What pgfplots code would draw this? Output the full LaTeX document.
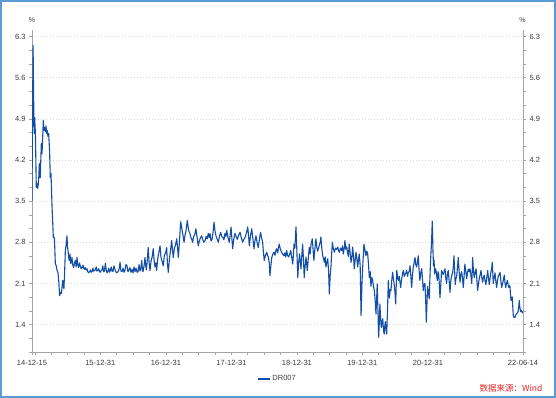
\documentclass[border=0pt]{standalone}
\usepackage{pgfplots}
\usepackage{pgfplotstable}
\pgfplotsset{compat=1.18}
\usepackage{fontspec}
\setmainfont{Liberation Sans}
\newfontfamily\cjk{Noto Sans CJK SC}
\definecolor{lineblue}{RGB}{18,78,165}
\definecolor{framecol}{RGB}{91,155,213}
\definecolor{axgray}{RGB}{165,165,165}
\definecolor{txtgray}{RGB}{60,60,60}
\definecolor{gridgray}{RGB}{215,215,215}
\definecolor{srcred}{RGB}{230,35,35}

\pgfplotstableread{
day val
0 3.51
3 5.00
6 6.15
9 5.30
12 4.65
15 4.92
19 4.65
24 3.73
28 3.80
32 3.72
37 3.85
41 4.14
46 3.90
52 4.48
56 4.31
63 4.87
67 4.70
71 4.75
75 4.68
78 4.78
82 4.65
85 4.70
89 4.60
93 4.65
98 4.36
102 3.90
106 3.97
112 3.39
119 2.88
125 2.88
130 2.44
135 2.40
140 2.32
145 2.28
149 2.15
154 1.89
159 1.95
164 1.93
168 2.05
171 2.15
175 2.05
178 2.01
182 2.30
186 2.66
190 2.75
195 2.91
198 2.72
201 2.66
204 2.55
208 2.49
212 2.60
216 2.44
220 2.48
223 2.54
227 2.42
232 2.37
237 2.45
242 2.49
246 2.38
251 2.54
255 2.42
260 2.37
265 2.45
269 2.40
274 2.35
279 2.37
284 2.41
288 2.36
293 2.34
297 2.37
302 2.33
307 2.35
311 2.30
316 2.28
321 2.30
326 2.33
330 2.29
335 2.30
340 2.36
344 2.31
349 2.32
353 2.33
358 2.38
362 2.31
367 2.32
372 2.35
377 2.30
381 2.29
386 2.32
390 2.33
395 2.40
399 2.30
404 2.31
409 2.44
414 2.33
418 2.28
423 2.30
428 2.36
432 2.29
437 2.32
442 2.38
447 2.30
452 2.31
457 2.40
464 2.32
472 2.28
480 2.30
486 2.35
491 2.46
496 2.31
502 2.30
508 2.36
513 2.29
519 2.33
524 2.42
530 2.40
535 2.30
541 2.33
546 2.37
552 2.29
558 2.34
563 2.28
569 2.38
575 2.30
580 2.36
586 2.29
591 2.30
597 2.42
602 2.31
607 2.35
612 2.49
616 2.33
619 2.30
625 2.40
630 2.54
634 2.40
638 2.33
643 2.50
648 2.71
653 2.45
658 2.32
664 2.48
670 2.55
676 2.69
681 2.50
686 2.38
691 2.45
695 2.32
700 2.50
706 2.60
714 2.74
719 2.55
725 2.48
732 2.40
738 2.58
745 2.62
751 2.71
755 2.45
760 2.29
766 2.50
772 2.65
779 2.83
784 2.65
788 2.54
794 2.70
800 2.75
807 2.86
812 2.70
816 2.54
822 2.80
829 3.15
835 3.05
840 2.95
844 2.88
848 2.80
853 2.92
859 3.00
866 3.17
871 3.05
876 2.98
881 2.95
886 2.88
891 2.85
896 2.80
901 2.90
907 2.92
914 3.03
920 2.90
927 2.74
933 2.82
940 2.88
946 2.91
952 2.85
958 2.80
965 2.83
971 2.90
977 2.86
983 2.95
988 2.88
993 2.95
998 2.82
1004 2.85
1010 2.98
1015 3.14
1020 3.00
1026 2.91
1032 2.86
1039 2.80
1045 2.90
1052 2.97
1058 2.90
1065 2.88
1070 2.84
1076 2.95
1081 2.90
1086 3.00
1093 2.88
1100 2.80
1105 2.92
1110 3.06
1115 2.85
1119 2.69
1125 2.85
1132 2.95
1138 2.90
1145 2.85
1152 2.92
1160 2.97
1167 2.88
1175 2.80
1181 2.85
1188 2.88
1195 2.95
1203 3.06
1208 2.90
1212 2.74
1218 2.90
1225 3.03
1231 2.88
1238 2.69
1243 2.82
1249 2.91
1255 2.80
1262 2.71
1268 2.85
1275 2.97
1280 2.88
1286 2.80
1290 2.65
1295 2.49
1302 2.58
1309 2.63
1313 2.58
1318 2.55
1323 2.45
1327 2.23
1332 2.40
1337 2.54
1343 2.60
1349 2.63
1355 2.58
1360 2.66
1364 2.69
1370 2.62
1375 2.72
1379 2.77
1385 2.68
1392 2.63
1398 2.60
1405 2.57
1410 2.62
1415 2.55
1420 2.66
1425 2.58
1431 2.55
1437 2.60
1443 2.66
1448 2.55
1454 2.43
1458 2.60
1461 2.77
1466 2.70
1472 3.06
1477 2.65
1482 2.20
1487 2.45
1492 2.60
1500 2.35
1504 2.55
1509 2.77
1514 2.50
1518 2.20
1523 2.40
1528 2.55
1535 2.32
1540 2.50
1546 2.71
1551 2.60
1556 2.77
1563 2.86
1568 2.65
1572 2.49
1578 2.70
1583 2.86
1588 2.72
1593 2.65
1598 2.70
1602 2.75
1607 2.80
1611 2.89
1616 2.70
1621 2.57
1626 2.52
1630 2.46
1635 2.55
1639 2.38
1644 2.45
1649 2.52
1654 2.30
1658 1.92
1663 2.25
1667 2.38
1671 2.60
1675 2.80
1680 2.70
1686 2.63
1692 2.70
1699 2.68
1705 2.72
1709 2.66
1714 2.63
1720 2.70
1727 2.66
1731 2.74
1736 2.60
1741 2.70
1745 2.83
1750 2.68
1755 2.72
1760 2.62
1764 2.56
1769 2.77
1774 2.62
1779 2.46
1784 2.55
1788 2.72
1793 2.55
1797 2.35
1802 2.50
1807 2.63
1812 2.50
1816 2.38
1821 2.52
1825 2.60
1830 2.40
1835 1.55
1840 2.10
1844 2.38
1848 2.60
1851 2.77
1856 2.68
1862 2.57
1867 2.65
1872 2.60
1877 2.40
1881 2.20
1886 2.30
1890 2.05
1895 2.20
1900 2.15
1904 2.05
1909 1.98
1914 1.80
1918 1.58
1922 1.85
1925 2.09
1929 1.65
1933 1.18
1937 1.45
1940 1.75
1944 1.50
1948 1.35
1952 1.45
1956 1.50
1960 1.30
1964 1.24
1968 1.40
1971 1.45
1975 1.30
1978 1.24
1982 1.60
1987 2.15
1990 1.95
1993 1.85
1998 2.00
2002 1.98
2006 2.15
2011 2.29
2015 2.18
2019 2.10
2024 1.95
2028 1.75
2031 2.05
2034 2.32
2039 2.20
2043 2.15
2048 2.22
2052 2.12
2056 2.03
2060 2.15
2063 2.20
2067 2.28
2071 2.32
2076 2.22
2080 2.25
2085 2.28
2089 2.32
2094 2.22
2098 2.28
2103 2.30
2108 2.40
2112 2.25
2117 2.03
2122 2.25
2126 2.38
2131 2.45
2136 2.54
2140 2.42
2145 2.38
2150 2.48
2154 2.57
2158 2.35
2163 2.15
2168 2.28
2173 2.35
2178 2.15
2182 1.98
2186 2.08
2191 2.10
2195 1.85
2199 1.44
2203 1.80
2206 2.05
2210 1.95
2215 1.84
2219 2.20
2223 2.52
2228 2.80
2232 3.16
2236 2.65
2239 2.40
2242 2.50
2245 2.26
2249 2.35
2253 2.32
2257 2.22
2260 2.15
2264 2.30
2268 2.25
2272 2.05
2275 1.86
2280 2.10
2284 2.32
2289 2.28
2293 2.25
2298 2.30
2303 2.35
2307 2.20
2312 2.10
2316 2.25
2321 2.32
2326 2.15
2331 1.95
2334 2.10
2338 2.20
2342 2.25
2346 2.29
2350 2.40
2353 2.57
2357 2.30
2360 2.08
2364 2.18
2368 2.22
2372 2.35
2377 2.54
2382 2.30
2387 2.12
2391 2.25
2396 2.30
2400 2.20
2405 2.03
2410 2.25
2414 2.43
2419 2.30
2424 2.18
2428 2.28
2433 2.34
2438 2.30
2442 2.35
2447 2.25
2452 2.10
2455 2.30
2457 2.54
2461 2.35
2466 2.20
2471 2.28
2476 2.35
2480 2.20
2485 1.98
2490 2.10
2494 2.18
2499 2.25
2504 2.32
2508 2.20
2513 2.12
2517 2.20
2522 2.24
2526 2.15
2531 2.08
2536 2.20
2541 2.32
2545 2.20
2550 2.08
2554 2.18
2558 2.28
2563 2.35
2567 2.46
2570 2.25
2572 2.10
2577 2.20
2582 2.28
2586 2.15
2591 2.03
2596 2.15
2600 2.22
2605 2.25
2610 2.29
2614 2.15
2619 2.03
2624 2.10
2628 2.15
2631 2.20
2634 2.24
2638 2.10
2642 2.03
2646 2.10
2651 2.15
2655 2.08
2659 2.03
2662 2.06
2665 2.06
2668 1.92
2671 1.81
2675 1.85
2678 1.87
2681 1.70
2684 1.55
2688 1.52
2693 1.52
2697 1.56
2702 1.58
2706 1.60
2711 1.62
2714 1.70
2717 1.81
2720 1.70
2725 1.62
2730 1.64
2734 1.60
2738 1.62
}\drdata

\pgfplotsset{
  common/.style={
    at={(32pt,46pt)}, anchor=south west,
    scale only axis, width=491pt, height=322.3pt,
    xmin=0, xmax=2738, ymin=0.9333, ymax=6.4167,
    axis line style={axgray, line width=0.6pt, -},
    tick align=outside,
    major tick length=3pt, minor tick length=3pt,
    every tick/.style={axgray, line width=0.5pt},
    every minor tick/.style={axgray, line width=0.5pt},
    tick label style={font=\fontsize{7.5}{8.5}\selectfont, text=txtgray},
    ytick={1.4,2.1,2.8,3.5,4.2,4.9,5.6,6.3},
    yticklabels={1.4,2.1,2.8,3.5,4.2,4.9,5.6,6.3},
    minor ytick={0.9333,1.1667,1.6333,1.8667,2.3333,2.5667,3.0333,3.2667,3.7333,3.9667,4.4333,4.6667,5.1333,5.3667,5.8333,6.0667},
  }
}

\begin{document}
\begin{tikzpicture}[x=1pt,y=1pt]
\useasboundingbox (0,0) rectangle (556,398);
\fill[white] (0,0) rectangle (556,398);
\draw[framecol, line width=1.6pt] (0.8,0.8) rectangle (555.2,397.2);

\begin{axis}[
  common,
  axis x line*=bottom, axis y line*=left,
  xtick={0,381,747,1112,1477,1842,2208,2738},
  xticklabels={14-12-15,15-12-31,16-12-31,17-12-31,18-12-31,19-12-31,20-12-31,22-06-14},
  xticklabel style={yshift=-1.5pt},
  minor xtick={16,106,197,289,472,563,655,837,928,1020,1202,1293,1385,1567,1658,1750,1933,2024,2116,2298,2389,2481,2573,2663},
  ymajorgrids,
  major grid style={gridgray, line width=0.5pt, dash pattern=on 1pt off 2pt},
  legend style={at={(0.458,-0.084)}, anchor=west, draw=none, fill=none,
    inner sep=0pt, font=\fontsize{7.5}{8.5}\selectfont, text=txtgray},
  legend image code/.code={\draw[lineblue, line width=1.4pt] (0pt,0pt) -- (12pt,0pt);},
]
\addplot[lineblue, line width=1.1pt, line join=round] table[x=day,y=val] {\drdata};
\addlegendentry{DR007}
\end{axis}

\begin{axis}[
  common,
  axis x line=none, axis y line*=right,
]
\addplot[draw=none] coordinates {(0,1.4)};
\end{axis}

\node[font=\fontsize{7}{8}\selectfont, text=txtgray] at (32,378) {\%};
\node[font=\fontsize{7}{8}\selectfont, text=txtgray] at (522.5,378) {\%};
\node[font=\cjk\fontsize{8.5}{9.5}\selectfont, text=srcred] at (511,9.5) {数据来源：Wind};
\end{tikzpicture}
\end{document}
